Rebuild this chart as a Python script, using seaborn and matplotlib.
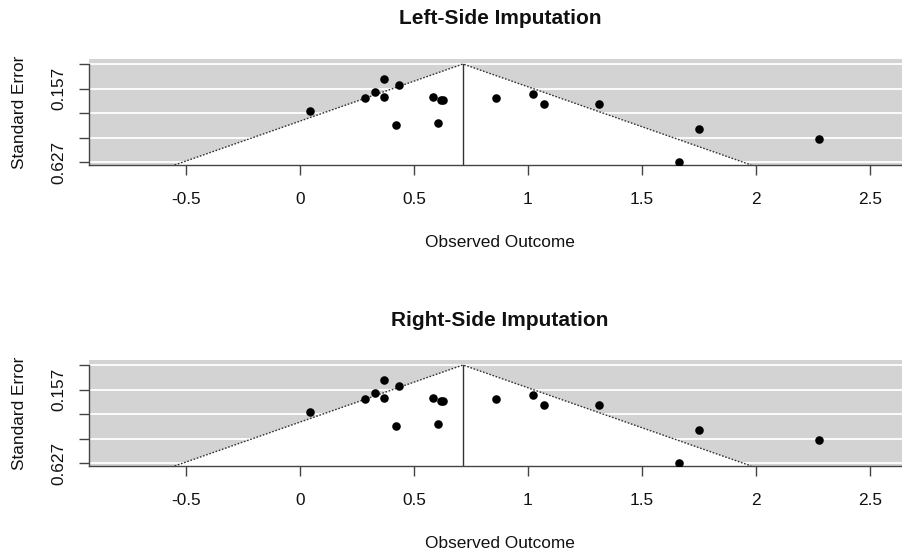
import numpy as np
import pandas as pd
import seaborn as sns
import matplotlib
matplotlib.use('Agg')
import matplotlib.pyplot as plt

# observed outcomes and standard errors
yi = [0.045, 0.370, 0.433, 0.330, 0.284, 0.370, 0.422, 0.582, 0.620, 0.629,
      0.607, 0.860, 1.023, 1.071, 1.310, 1.750, 1.662, 2.276]
sei = [0.302, 0.098, 0.132, 0.177, 0.219, 0.213, 0.388, 0.209, 0.230, 0.230,
       0.379, 0.219, 0.190, 0.254, 0.257, 0.415, 0.627, 0.479]
estimate = 0.715
titles = ['Left-Side Imputation', 'Right-Side Imputation']
x_ticks = [-0.5, 0, 0.5, 1, 1.5, 2, 2.5]
x_ticklabels = ['-0.5', '0', '0.5', '1', '1.5', '2', '2.5']
y_ticks = [0, 0.15675, 0.3135, 0.47025, 0.627]
y_ticklabels = ['', '0.157', '', '', '0.627']

df = pd.DataFrame({'yi': yi, 'sei': sei})

sns.set_theme(style='ticks')
plt.rcParams['font.family'] = ['Liberation Sans', 'DejaVu Sans']
plt.rcParams['axes.unicode_minus'] = False
plt.rcParams['text.color'] = '#111111'
plt.rcParams['axes.labelcolor'] = '#111111'
plt.rcParams['xtick.labelcolor'] = '#111111'
plt.rcParams['ytick.labelcolor'] = '#111111'

W, H = 902, 554
fig = plt.figure(figsize=(W / 100, H / 100), dpi=100)

xlim = (-0.925, 2.68)
ylim_top, ylim_bot = -0.032, 0.645

# pixel layout of the two panels (left, right, top, bottom)
panels = [(89, 911, 59, 165), (89, 911, 360, 466)]

for (l, r, t, b), title in zip(panels, titles):
    ax = fig.add_axes([l / W, 1 - b / H, (r - l) / W, (b - t) / H])
    ax.set_xlim(*xlim)
    ax.set_ylim(ylim_bot, ylim_top)
    ax.set_facecolor('white')

    # grey background, white reference lines, white funnel
    ax.axvspan(xlim[0], xlim[1], color='lightgray', zorder=0, lw=0)
    for yt in y_ticks:
        ax.axhline(yt, color='white', lw=1.3, zorder=1)
    fx = [estimate - 1.96 * ylim_bot, estimate, estimate + 1.96 * ylim_bot]
    fy = [ylim_bot, 0, ylim_bot]
    ax.fill(fx, fy, color='white', zorder=2, lw=0)
    ax.plot(fx, fy, color='#333333', ls=(0, (1.2, 1.2)), lw=1, zorder=3)
    ax.plot([estimate, estimate], [0, ylim_bot], color='#333333', lw=1, zorder=3)

    sns.scatterplot(data=df, x='yi', y='sei', ax=ax, color='black', s=38,
                    edgecolor='black', linewidth=0, zorder=4)

    ax.set_xticks(x_ticks)
    ax.set_xticklabels(x_ticklabels, fontsize=12.4)
    ax.set_yticks(y_ticks)
    ax.set_yticklabels(y_ticklabels, fontsize=12.4, rotation=90, va='center')
    ax.tick_params(axis='both', length=7.5, width=1, color='#444444')
    ax.tick_params(axis='x', pad=12)
    ax.tick_params(axis='y', pad=9)

    for side in ['top', 'right']:
        ax.spines[side].set_visible(False)
    ax.spines['left'].set_bounds(0, ylim_bot)
    for side in ['left', 'bottom']:
        ax.spines[side].set_color('#444444')
        ax.spines[side].set_linewidth(1)

    ax.set_xlabel('Observed Outcome', fontsize=12.4)
    ax.set_ylabel('Standard Error', fontsize=12.4)
    ax.xaxis.set_label_coords(0.5, -70 / (b - t))
    ax.yaxis.set_label_coords((27 - l) / (r - l), 0.5)
    ax.set_title(title, fontsize=15, fontweight='bold', pad=0,
                 x=(500 - l) / (r - l), y=1 + 40 / (b - t), va='center')

plt.savefig('out.png', dpi=100)
plt.close()
